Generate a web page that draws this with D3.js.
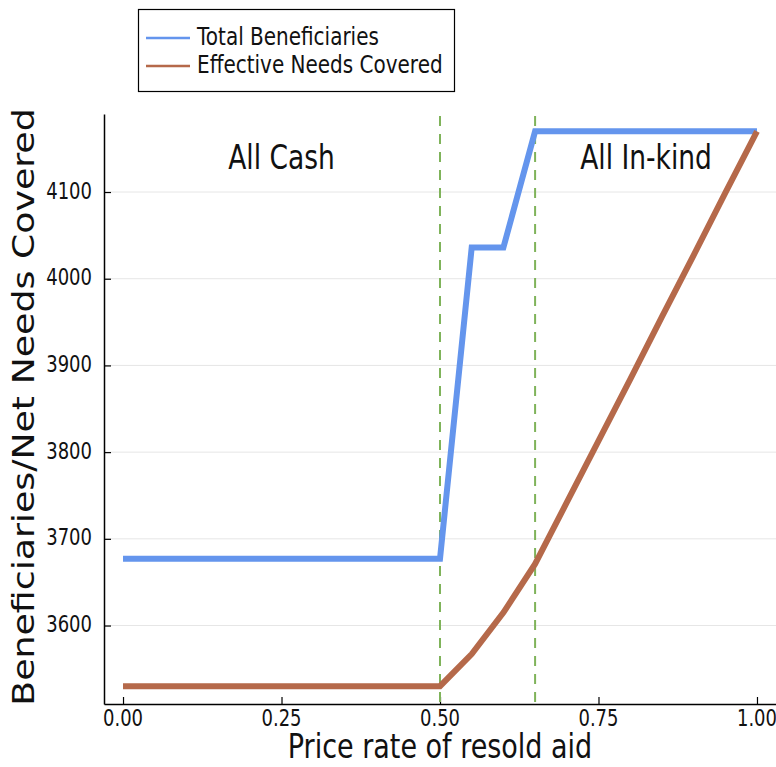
<!DOCTYPE html>
<html>
<head>
<meta charset="utf-8">
<script src="https://cdn.jsdelivr.net/npm/d3@7"></script>
<style>
  body { margin: 0; background: #fff; }
  svg { display: block; font-family: "DejaVu Sans", sans-serif; }
</style>
</head>
<body>
<svg id="chart" width="776" height="767"></svg>
<script>
// Price rate of resold aid (x) and the two series
const priceRate = [0.00, 0.05, 0.10, 0.15, 0.20, 0.25, 0.30, 0.35, 0.40, 0.45,
                   0.50, 0.55, 0.60, 0.65, 0.70, 0.75, 0.80, 0.85, 0.90, 0.95, 1.00];
const totalBeneficiaries = [3677, 3677, 3677, 3677, 3677, 3677, 3677, 3677, 3677, 3677,
                            3677, 4036, 4036, 4170, 4170, 4170, 4170, 4170, 4170, 4170, 4170];
const effectiveNeeds = [3530, 3530, 3530, 3530, 3530, 3530, 3530, 3530, 3530, 3530,
                        3530, 3567, 3615, 3671, 3742, 3813, 3884, 3956, 4027, 4099, 4170];
const regimeBounds = [0.50, 0.65];
const xTicks = [0, 0.25, 0.5, 0.75, 1.0];
const yTicks = [3600, 3700, 3800, 3900, 4000, 4100];
const annotations = [
  { text: "All Cash", x: 0.25, y: 4137 },
  { text: "All In-kind", x: 0.825, y: 4137 }
];
const seriesNames = ["Total Beneficiaries", "Effective Needs Covered"];
const seriesColors = ["#6495ed", "#b5694a"];

// the source picture is a bit stretched vertically, so its text is too
const SY = 1.25;

const svg = d3.select("#chart");
const plotLeft = 104, plotRight = 776, plotTop = 114, plotBottom = 704;

const x = d3.scaleLinear().domain([-0.03, 1.03]).range([plotLeft, plotRight]);
const y = d3.scaleLinear().domain([3509.5, 4190]).range([plotBottom, plotTop]);

function label(parent, px, py, txt, size, anchor, opts = {}) {
  const t = opts.rotate
    ? `translate(${px},${py}) rotate(-90) scale(${opts.sx || SY},1)`
    : `translate(${px},${py}) scale(1,${SY})`;
  return parent.append("text")
    .attr("transform", t)
    .attr("text-anchor", anchor)
    .attr("dominant-baseline", opts.baseline || "middle")
    .style("font-size", size + "px")
    .attr("fill", "#111")
    .text(txt);
}

// horizontal grid
svg.append("g")
  .selectAll("line").data(yTicks).join("line")
  .attr("x1", plotLeft).attr("x2", plotRight)
  .attr("y1", d => y(d)).attr("y2", d => y(d))
  .attr("stroke", "#e6e6e6").attr("stroke-width", 1);

// axes
const xAxis = svg.append("g").attr("transform", `translate(0,${plotBottom})`)
  .call(d3.axisBottom(x).tickValues(xTicks).tickFormat("")
    .tickSizeInner(-7).tickSizeOuter(0));
const yAxis = svg.append("g").attr("transform", `translate(${plotLeft},0)`)
  .call(d3.axisLeft(y).tickValues(yTicks).tickFormat("")
    .tickSizeInner(-7).tickSizeOuter(0));

[xAxis, yAxis].forEach(g => {
  g.select(".domain").attr("stroke", "#000").attr("stroke-width", 1.5);
  g.selectAll(".tick line").attr("stroke", "#000").attr("stroke-width", 1.2);
});

const tickLabels = svg.append("g");
const fmtX = d3.format(".2f");
xTicks.forEach(v => label(tickLabels, x(v), plotBottom + 15, fmtX(v), 18, "middle"));
yTicks.forEach(v => label(tickLabels, plotLeft - 12, y(v), String(v), 18, "end"));

// regime boundaries
svg.append("g")
  .selectAll("line").data(regimeBounds).join("line")
  .attr("x1", d => x(d)).attr("x2", d => x(d))
  .attr("y1", plotTop + 2).attr("y2", plotBottom)
  .attr("stroke", "#7fb35a").attr("stroke-width", 2)
  .attr("stroke-dasharray", "10,8");

// series
const line = d3.line().x(d => x(d[0])).y(d => y(d[1]));
[totalBeneficiaries, effectiveNeeds].forEach((vals, i) => {
  svg.append("path")
    .datum(priceRate.map((p, j) => [p, vals[j]]))
    .attr("d", line)
    .attr("fill", "none")
    .attr("stroke", seriesColors[i])
    .attr("stroke-width", 6)
    .attr("stroke-linejoin", "miter");
});

// annotations
annotations.forEach(a => label(svg, x(a.x), y(a.y), a.text, 26.5, "middle"));

// axis titles
label(svg, 440, 758, "Price rate of resold aid", 27, "middle", { baseline: "alphabetic" });
label(svg, 34, 407, "Beneficiaries/Net Needs Covered", 30.5, "middle",
  { rotate: true, baseline: "alphabetic", sx: 1.19 });

// legend
const legend = svg.append("g");
legend.append("rect")
  .attr("x", 138.5).attr("y", 9.5).attr("width", 316).attr("height", 82)
  .attr("fill", "#fff").attr("stroke", "#000").attr("stroke-width", 1.2);
seriesNames.forEach((name, i) => {
  const ly = 38 + i * 28;
  legend.append("line")
    .attr("x1", 146).attr("x2", 190).attr("y1", ly).attr("y2", ly)
    .attr("stroke", seriesColors[i]).attr("stroke-width", 2.5);
  label(legend, 197, ly, name, 20, "start");
});
</script>
</body>
</html>
